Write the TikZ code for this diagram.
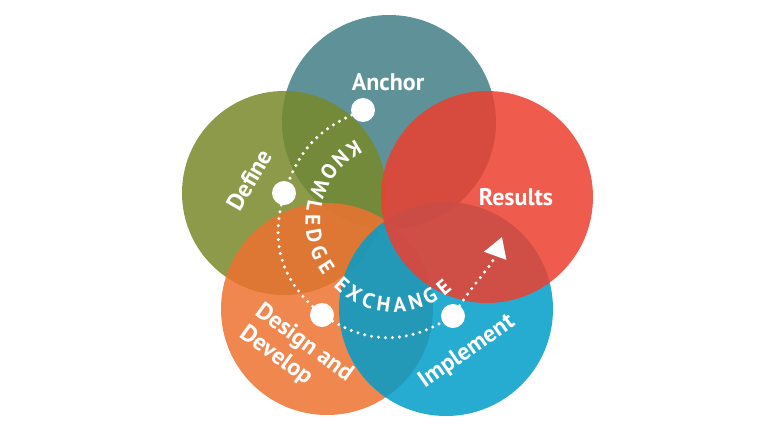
\documentclass[tikz,border=0pt]{standalone}
\usepackage{fontspec}
\setmainfont{PT Sans}
\usetikzlibrary{arrows.meta}
\definecolor{cAnchor}{RGB}{67,126,134}
\definecolor{cDefine}{RGB}{120,137,43}
\definecolor{cResults}{RGB}{237,63,47}
\definecolor{cDesign}{RGB}{237,114,49}
\definecolor{cImpl}{RGB}{0,157,202}
\begin{document}
\begin{tikzpicture}[x=1pt,y=-1pt,
  disc/.style={fill opacity=0.85},
  lbl/.style={text=white, font=\bfseries\fontsize{24}{27}\selectfont, inner sep=0pt},
  ltr/.style={text=white, font=\bfseries\fontsize{21}{23}\selectfont, inner sep=0pt},
  dotnode/.style={circle, fill=white, minimum size=24pt, inner sep=0pt},
  dotline/.style={draw=white, line width=3.4pt, line cap=round, dash pattern=on 0pt off 7pt}]
\useasboundingbox (0,0) rectangle (780,437);
\fill[white] (0,0) rectangle (780,437);
% circles
\fill[cAnchor, disc]  (389,122) circle[radius=107pt];
\fill[cDefine, disc]  (284,193) circle[radius=102pt];
\fill[cDesign, disc]  (327,309) circle[radius=106pt];
\fill[cImpl, disc]    (446,309) circle[radius=107pt];
\fill[cResults, disc] (487,197) circle[radius=106pt];
% dots
\node[dotnode] (dA) at (363,110) {};
\node[dotnode] (dD) at (284,193) {};
\node[dotnode] (dG) at (322,315) {};
\node[dotnode] (dI) at (453,316) {};
\coordinate (tip) at (502,237);
% connectors
\begin{scope}[y=1pt]
\draw[dotline] (dA) to[bend right=22] (dD);
\draw[dotline] (dD) to[bend right=30] (dG);
\draw[dotline] (dG) to[bend right=30] (dI);
\draw[dotline, -{Triangle[length=20pt,width=23pt]}] (dI) to[out=57,in=250] (tip);
\end{scope}
% labels
\node[lbl] (tAnchor) at (388,82) {Anchor};
\node[lbl] (tResults) at (516,197) {Results};
\node[lbl, rotate=60] (tDefine) at (249,180) {Define};
\node[lbl, rotate=-36, align=left] (tDesign) at (296,354) {Design and\\Develop};
\node[lbl, rotate=35] (tImpl) at (467,352) {Implement};
% curved words
\foreach \ch/\a [count=\i] in {K/121,N/132.3,O/144.2,W/157.5,L/169.6,E/179.5,D/190.5,G/202.1,E/212.9}
  \node[ltr, rotate=\a+90] (kn\i) at ([shift={(-\a:84)}]397,221) {\ch};
\foreach \ch/\a [count=\i] in {E/227.6,X/239,C/250.5,H/262.3,A/274.3,N/286.2,G/297.8,E/310}
  \node[ltr, rotate=\a+90] (ex\i) at ([shift={(-\a:77)}]394,228) {\ch};
\end{tikzpicture}
\end{document}
